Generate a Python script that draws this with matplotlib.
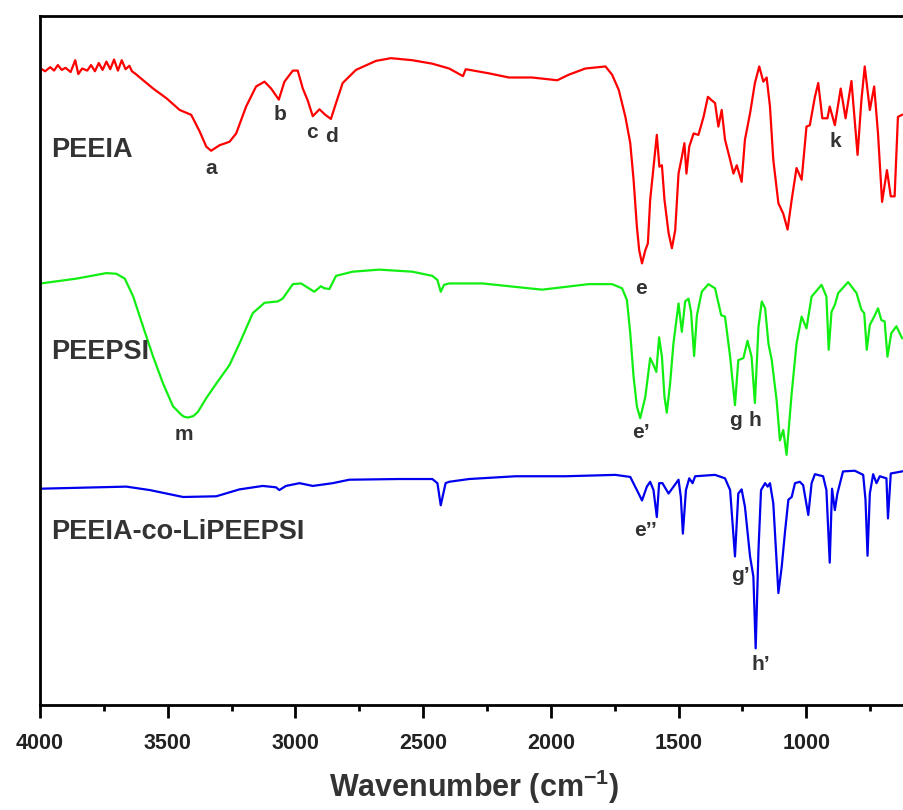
import matplotlib
matplotlib.use("Agg")
import matplotlib.pyplot as plt
from matplotlib.ticker import MultipleLocator

plt.rcParams['font.family'] = ['Liberation Sans', 'DejaVu Sans']
plt.rcParams['font.weight'] = 'bold'

# ---------------------------------------------------------------
# FTIR spectra (wavenumber cm-1, transmittance a.u.)
# ---------------------------------------------------------------
peeia_wn = [3997, 3980, 3960, 3945, 3930, 3915, 3900, 3880, 3862, 3850, 3835, 3815,
            3800, 3785, 3770, 3755, 3740, 3725, 3710, 3695, 3680, 3665, 3650, 3640,
            3625, 3609, 3557, 3505, 3453, 3408, 3375, 3349, 3330, 3297, 3258, 3232,
            3193, 3154, 3121, 3095, 3065, 3043, 3010, 2991, 2971, 2952, 2932, 2906,
            2883, 2861, 2841, 2815, 2763, 2685, 2626, 2542, 2464, 2398, 2344, 2333,
            2242, 2164, 2073, 1975, 1930, 1865, 1786, 1760, 1734, 1708, 1689, 1676,
            1663, 1654, 1643, 1630, 1620, 1611, 1602, 1585, 1575, 1565, 1555, 1539,
            1526, 1513, 1500, 1487, 1477, 1469, 1458, 1441, 1422, 1402, 1385, 1370,
            1357, 1344, 1331, 1318, 1298, 1285, 1272, 1253, 1240, 1220, 1201, 1184,
            1168, 1155, 1142, 1129, 1109, 1090, 1073, 1057, 1038, 1018, 999, 986,
            966, 953, 937, 917, 908, 888, 865, 846, 823, 799, 784, 771, 751, 734,
            719, 703, 684, 669, 654, 641, 625]
peeia_t = [92.4, 92.0, 92.6, 92.1, 92.9, 92.2, 92.5, 91.9, 93.6, 91.6, 92.4, 92.1,
           92.9, 92.0, 93.2, 92.2, 93.4, 92.3, 93.7, 92.1, 93.6, 92.3, 92.8, 92.0,
           91.6, 91.1, 89.5, 88.1, 86.4, 85.7, 83.3, 81.1, 80.5, 81.3, 81.8, 83.0,
           86.9, 89.8, 90.5, 89.5, 87.9, 90.5, 92.1, 92.1, 89.5, 87.8, 85.5, 86.5,
           85.7, 85.1, 87.4, 90.3, 92.2, 93.5, 93.9, 93.6, 93.1, 92.4, 91.3, 92.3,
           91.7, 91.1, 91.1, 90.7, 91.5, 92.4, 92.7, 91.5, 89.3, 85.4, 81.6, 76.3,
           69.5, 66.1, 64.2, 66.1, 67.1, 73.4, 76.7, 82.8, 78.2, 78.4, 73.4, 68.6,
           66.4, 69.0, 77.2, 79.6, 81.6, 77.2, 81.1, 83.0, 82.8, 85.4, 88.3, 87.8,
           87.4, 84.0, 86.4, 82.1, 79.2, 77.2, 78.4, 76.0, 82.1, 85.9, 90.3, 92.7,
           90.5, 91.1, 86.9, 79.2, 72.9, 71.4, 69.1, 73.4, 78.0, 76.3, 84.0, 84.2,
           88.3, 90.3, 85.2, 85.2, 86.9, 84.2, 89.5, 85.2, 90.6, 79.9, 87.8, 92.7,
           86.4, 89.8, 83.0, 73.1, 77.7, 73.9, 73.9, 85.4, 85.7]

peepsi_wn = [3997, 3857, 3740, 3701, 3668, 3635, 3596, 3557, 3518, 3479, 3460, 3447,
             3435, 3421, 3400, 3382, 3349, 3310, 3258, 3219, 3167, 3121, 3069, 3050,
             3010, 2978, 2952, 2926, 2900, 2887, 2867, 2841, 2776, 2672, 2542, 2464,
             2444, 2431, 2418, 2398, 2268, 2034, 1852, 1760, 1721, 1702, 1689, 1676,
             1663, 1650, 1630, 1611, 1598, 1587, 1576, 1565, 1555, 1546, 1533, 1520,
             1500, 1487, 1474, 1461, 1451, 1439, 1428, 1409, 1383, 1357, 1333, 1318,
             1298, 1279, 1266, 1246, 1230, 1214, 1201, 1187, 1174, 1161, 1148, 1135,
             1116, 1103, 1090, 1077, 1057, 1038, 1018, 999, 979, 940, 921, 912, 901,
             888, 875, 836, 803, 784, 773, 763, 751, 734, 719, 706, 693, 682, 667,
             647, 625]
peepsi_t = [61.3, 62.0, 62.8, 62.7, 62.0, 59.4, 55.0, 50.7, 46.8, 43.5, 42.8, 42.3,
            42.0, 41.9, 42.1, 42.7, 44.7, 46.8, 49.5, 52.6, 57.0, 58.5, 58.7, 59.1,
            61.2, 61.3, 60.7, 60.1, 60.9, 60.6, 60.5, 62.4, 63.0, 63.3, 63.0, 62.4,
            61.8, 60.1, 61.1, 61.3, 61.3, 60.4, 61.2, 61.2, 60.6, 58.9, 54.1, 47.8,
            43.5, 41.8, 44.9, 50.5, 49.5, 48.5, 53.5, 50.7, 44.9, 42.6, 46.8, 52.6,
            58.4, 54.3, 58.7, 59.1, 57.2, 50.8, 56.7, 60.1, 61.2, 60.6, 56.7, 56.5,
            50.7, 43.7, 50.2, 50.5, 53.0, 50.7, 44.0, 55.0, 58.7, 57.7, 52.6, 50.2,
            44.4, 38.6, 40.1, 36.5, 45.4, 52.6, 56.5, 54.8, 59.4, 61.1, 59.4, 51.7,
            57.2, 58.2, 59.9, 61.5, 59.9, 57.5, 57.0, 51.7, 55.3, 56.5, 57.7, 56.0,
            55.8, 50.7, 54.1, 55.1, 53.4]

copoly_wn = [3997, 3662, 3570, 3440, 3310, 3219, 3128, 3076, 3063, 3037, 2984, 2932,
             2854, 2789, 2594, 2464, 2444, 2431, 2412, 2398, 2320, 2138, 1943, 1747,
             1689, 1663, 1643, 1624, 1611, 1598, 1585, 1576, 1563, 1539, 1500, 1491,
             1483, 1471, 1458, 1445, 1435, 1357, 1318, 1298, 1279, 1266, 1253, 1240,
             1220, 1207, 1198, 1187, 1177, 1161, 1151, 1142, 1129, 1109, 1096, 1083,
             1070, 1057, 1044, 1025, 1012, 992, 979, 966, 934, 921, 908, 899, 888,
             878, 856, 810, 777, 768, 760, 751, 738, 725, 712, 686, 680, 669, 625]
copoly_t = [31.6, 31.9, 31.4, 30.4, 30.5, 31.5, 32.0, 31.8, 31.4, 32.0, 32.4, 32.0,
            32.4, 32.9, 33.0, 33.0, 32.4, 29.2, 32.4, 32.6, 33.0, 33.4, 33.4, 33.6,
            33.3, 31.4, 29.9, 31.9, 32.6, 31.4, 27.5, 32.4, 32.4, 30.9, 32.9, 30.4,
            25.1, 31.4, 33.1, 32.4, 33.4, 33.6, 33.1, 31.4, 21.8, 30.9, 31.5, 29.0,
            21.8, 18.9, 8.5, 22.7, 31.4, 32.4, 31.9, 32.4, 29.5, 16.5, 20.3, 25.4,
            30.0, 30.4, 32.4, 32.6, 32.1, 27.8, 32.4, 33.7, 33.4, 31.4, 20.9, 31.6,
            28.5, 30.9, 34.1, 34.2, 33.6, 30.0, 21.9, 30.9, 33.7, 32.4, 33.4, 33.1,
            27.3, 33.8, 34.1]

# sample names and peak letters
sample_names = ["PEEIA", "PEEPSI", "PEEIA-co-LiPEEPSI"]
sample_name_t = [80.6, 51.4, 25.3]
peak_labels = ["a", "b", "c", "d", "e", "k", "m", "e\u2019", "g", "h",
               "e\u2019\u2019", "g\u2019", "h\u2019"]
peak_wn = [3328, 3059, 2934, 2859, 1648, 887, 3438, 1648, 1277, 1203, 1629, 1258, 1176]
peak_t = [78.0, 85.7, 83.2, 82.5, 60.6, 81.8, 39.4, 39.7, 41.5, 41.4, 25.6, 19.1, 6.1]


def plotSpectra():
    fig = plt.figure(figsize=(9.04, 8.10), dpi=100)
    # axes runs a little past the right edge, like the cropped original
    ax = fig.add_axes([40 / 904, 105 / 810, 868.4 / 904, 689 / 810])

    ax.plot(peeia_wn, peeia_t, color="#ff0000", lw=1.6)
    ax.plot(peepsi_wn, peepsi_t, color="#11ee11", lw=1.6)
    ax.plot(copoly_wn, copoly_t, color="#0000ee", lw=1.6)

    ax.set_xlim(4000, 600)
    ax.set_ylim(0.3, 100)

    for name, t in zip(sample_names, sample_name_t):
        ax.text(3955, t, name, fontsize=19.5, fontweight="bold", color="#333333",
                ha="left", va="center")
    for lab, wn, t in zip(peak_labels, peak_wn, peak_t):
        ax.text(wn, t, lab, fontsize=15, fontweight="bold", color="#333333",
                ha="center", va="center")

    ax.xaxis.set_minor_locator(MultipleLocator(250))
    ax.set_xticks([4000, 3500, 3000, 2500, 2000, 1500, 1000])
    ax.tick_params(axis="x", which="major", direction="out", length=9, width=2,
                   pad=11, labelsize=15.5, labelcolor="#222222")
    ax.tick_params(axis="x", which="minor", direction="out", length=4.5, width=2)
    for lab in ax.get_xticklabels():
        lab.set_fontweight("bold")
    ax.set_yticks([])

    for side in ["left", "bottom", "top"]:
        ax.spines[side].set_linewidth(2)
    ax.spines["right"].set_visible(False)

    ax.set_xlabel("Wavenumber (cm$^{\\mathregular{-1}}$)", fontsize=22,
                  fontweight="bold", color="#333333", labelpad=10)

    fig.savefig("out.png", dpi=100)


if __name__ == "__main__":
    plotSpectra()
